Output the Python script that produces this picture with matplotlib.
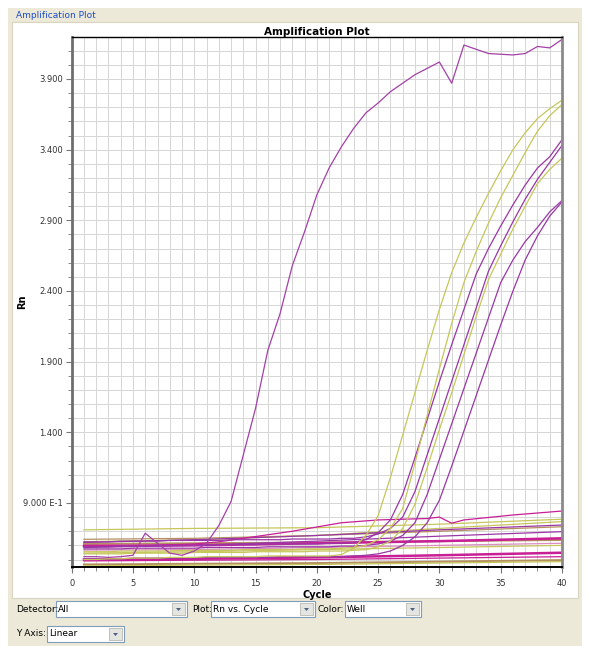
import matplotlib
matplotlib.use("Agg")
import matplotlib.pyplot as plt
import matplotlib.patches as mpatches
import numpy as np

W, H = 589, 646

cycles = list(range(1, 41))

# early amplifier
early = [0.52, 0.52, 0.515, 0.52, 0.53, 0.686, 0.615, 0.545, 0.53, 0.56,
         0.615, 0.74, 0.91, 1.24, 1.57, 1.98, 2.24, 2.58, 2.82, 3.08,
         3.27, 3.42, 3.55, 3.66, 3.73, 3.81, 3.87, 3.93, 3.975, 4.02,
         3.87, 4.14, 4.11, 4.08, 4.075, 4.07, 4.08, 4.13, 4.12, 4.18]

# late amplifiers
late_1 = [0.50, 0.50, 0.505, 0.505, 0.51, 0.51, 0.51, 0.515, 0.515, 0.515,
          0.52, 0.52, 0.52, 0.52, 0.52, 0.525, 0.525, 0.525, 0.525, 0.525,
          0.525, 0.535, 0.58, 0.67, 0.81, 1.08, 1.38, 1.68, 1.98, 2.27,
          2.53, 2.74, 2.92, 3.09, 3.25, 3.40, 3.52, 3.62, 3.69, 3.75]
late_2 = [0.555, 0.555, 0.555, 0.56, 0.56, 0.56, 0.56, 0.56, 0.565, 0.565,
          0.565, 0.565, 0.565, 0.57, 0.57, 0.57, 0.57, 0.57, 0.575, 0.575,
          0.575, 0.58, 0.585, 0.60, 0.64, 0.72, 0.86, 1.18, 1.52, 1.85,
          2.17, 2.46, 2.68, 2.88, 3.06, 3.22, 3.38, 3.53, 3.64, 3.72]
late_3 = [0.59, 0.59, 0.59, 0.595, 0.595, 0.595, 0.60, 0.60, 0.60, 0.60,
          0.60, 0.605, 0.605, 0.605, 0.605, 0.61, 0.61, 0.61, 0.61, 0.61,
          0.615, 0.615, 0.62, 0.64, 0.69, 0.78, 0.96, 1.22, 1.49, 1.76,
          2.02, 2.27, 2.52, 2.70, 2.86, 3.01, 3.15, 3.27, 3.35, 3.47]
late_4 = [0.625, 0.625, 0.625, 0.63, 0.63, 0.63, 0.63, 0.635, 0.635, 0.635,
          0.635, 0.635, 0.64, 0.64, 0.64, 0.64, 0.64, 0.645, 0.645, 0.645,
          0.645, 0.65, 0.65, 0.66, 0.68, 0.72, 0.80, 0.98, 1.24, 1.50,
          1.76, 2.02, 2.28, 2.54, 2.72, 2.89, 3.05, 3.19, 3.31, 3.43]
late_5 = [0.54, 0.54, 0.54, 0.54, 0.545, 0.545, 0.545, 0.545, 0.545, 0.55,
          0.55, 0.55, 0.55, 0.55, 0.555, 0.555, 0.555, 0.555, 0.555, 0.56,
          0.56, 0.56, 0.565, 0.57, 0.59, 0.63, 0.72, 0.89, 1.15, 1.42,
          1.68, 1.95, 2.22, 2.48, 2.66, 2.84, 3.00, 3.16, 3.26, 3.34]
late_6 = [0.575, 0.575, 0.575, 0.575, 0.58, 0.58, 0.58, 0.58, 0.58, 0.58,
          0.585, 0.585, 0.585, 0.585, 0.585, 0.59, 0.59, 0.59, 0.59, 0.59,
          0.59, 0.595, 0.595, 0.60, 0.61, 0.63, 0.67, 0.76, 0.96, 1.21,
          1.46, 1.71, 1.96, 2.21, 2.46, 2.62, 2.75, 2.85, 2.96, 3.04]
late_7 = [0.505, 0.505, 0.505, 0.505, 0.51, 0.51, 0.51, 0.51, 0.51, 0.51,
          0.515, 0.515, 0.515, 0.515, 0.515, 0.515, 0.52, 0.52, 0.52, 0.52,
          0.52, 0.52, 0.525, 0.53, 0.54, 0.56, 0.60, 0.66, 0.76, 0.92,
          1.16, 1.41, 1.66, 1.91, 2.16, 2.40, 2.62, 2.79, 2.93, 3.03]

# flat wells (read at a few cycles)
flat_cycles = [1, 10, 20, 30, 40]
flat_olive_top = [0.71, 0.72, 0.725, 0.75, 0.785]
flat_brown_1 = [0.643, 0.65, 0.67, 0.70, 0.732]
flat_olive_2 = [0.626, 0.64, 0.67, 0.72, 0.768]
flat_purple_1 = [0.62, 0.64, 0.67, 0.71, 0.744]
flat_brown_2 = [0.61, 0.615, 0.62, 0.63, 0.638]
flat_magenta_1 = [0.595, 0.60, 0.615, 0.63, 0.65]
flat_purple_2 = [0.585, 0.60, 0.63, 0.665, 0.697]
flat_pink = [0.567, 0.57, 0.585, 0.60, 0.615]
flat_olive_3 = [0.545, 0.555, 0.57, 0.585, 0.60]
flat_magenta_2 = [0.50, 0.505, 0.515, 0.53, 0.548]
flat_magenta_3 = [0.49, 0.495, 0.50, 0.51, 0.52]
flat_brown_3 = [0.465, 0.47, 0.475, 0.485, 0.496]
flat_olive_4 = [0.455, 0.46, 0.465, 0.475, 0.485]

rise_cycles = [1, 6, 10, 12, 14, 16, 18, 20, 22, 25, 29, 30, 31, 32, 36, 40]
rise_magenta = [0.60, 0.60, 0.61, 0.625, 0.65, 0.675, 0.70, 0.73, 0.76, 0.78,
                0.79, 0.80, 0.757, 0.78, 0.815, 0.843]

ytick_vals = [0.9, 1.4, 1.9, 2.4, 2.9, 3.4, 3.9]
ytick_labels = ["9.000 E-1", "1.400", "1.900", "2.400", "2.900", "3.400", "3.900"]
xtick_vals = [0, 5, 10, 15, 20, 25, 30, 35, 40]

PURPLE = "#9A36A6"
MAGENTA = "#C81E96"
OLIVE = "#C6C65A"
BROWN = "#B49060"
PINK = "#DC8CC0"
BEIGE = "#ECE9D8"


def fx(x):
    return x / W


def fy(y):
    return 1 - y / H


fig = plt.figure(figsize=(W / 100, H / 100), dpi=100)
fig.patch.set_facecolor("white")

# window frame
fig.add_artist(mpatches.Rectangle((fx(8), fy(646)), fx(574), 638 / H,
                                  facecolor=BEIGE, edgecolor="none", zorder=-10))
fig.add_artist(mpatches.Rectangle((fx(12), fy(598)), fx(566), 576 / H,
                                  facecolor="white", edgecolor="#D8D4C0", lw=0.8, zorder=-9))
fig.text(fx(16), fy(15), "Amplification Plot", color="#1C4CC8", fontsize=6.5,
         va="center", ha="left")

ax = fig.add_axes([fx(71.7), fy(567), (562 - 71.7) / W, (567 - 37) / H])

ax.plot(flat_cycles, flat_olive_top, color=OLIVE, lw=0.9)
ax.plot(flat_cycles, flat_brown_1, color=BROWN, lw=0.9)
ax.plot(flat_cycles, flat_olive_2, color=OLIVE, lw=0.9)
ax.plot(flat_cycles, flat_purple_1, color=PURPLE, lw=0.9)
ax.plot(flat_cycles, flat_brown_2, color=BROWN, lw=1.4)
ax.plot(flat_cycles, flat_magenta_1, color=MAGENTA, lw=1.8)
ax.plot(flat_cycles, flat_purple_2, color=PURPLE, lw=0.9)
ax.plot(flat_cycles, flat_pink, color=PINK, lw=0.9)
ax.plot(flat_cycles, flat_olive_3, color=OLIVE, lw=0.9)
ax.plot(flat_cycles, flat_magenta_2, color=MAGENTA, lw=1.8)
ax.plot(flat_cycles, flat_magenta_3, color=MAGENTA, lw=0.9)
ax.plot(flat_cycles, flat_brown_3, color=BROWN, lw=1.4)
ax.plot(flat_cycles, flat_olive_4, color=OLIVE, lw=0.9)
ax.plot(rise_cycles, rise_magenta, color=MAGENTA, lw=0.9)

ax.plot(cycles, late_7, color=PURPLE, lw=0.9)
ax.plot(cycles, late_6, color=PURPLE, lw=0.9)
ax.plot(cycles, late_5, color=OLIVE, lw=0.9)
ax.plot(cycles, late_4, color=PURPLE, lw=0.9)
ax.plot(cycles, late_3, color=PURPLE, lw=0.9)
ax.plot(cycles, late_2, color=OLIVE, lw=0.9)
ax.plot(cycles, late_1, color=OLIVE, lw=0.9)
ax.plot(cycles, early, color="#A440A8", lw=0.9)

ax.set_xlim(0, 40)
ax.set_ylim(0.447, 4.197)
ax.set_xticks(xtick_vals)
ax.set_xticks(np.arange(0, 41, 1), minor=True)
ax.set_yticks(ytick_vals)
ax.set_yticklabels(ytick_labels)
ax.set_yticks(np.arange(0.5, 4.2, 0.1), minor=True)
ax.grid(which="both", color="#D6D6D6", lw=0.7)
ax.set_axisbelow(True)
ax.tick_params(which="both", labelsize=6, colors="#777777", labelcolor="#333333")
ax.tick_params(axis="y", which="major", length=4, width=0.8, pad=2.5)
ax.tick_params(axis="x", which="major", length=4, width=0.8, pad=4.5)
ax.tick_params(which="minor", length=3, width=0.6)

ax.spines["left"].set_color("#6E6E6E")
ax.spines["left"].set_linewidth(2)
ax.spines["right"].set_color("#8A8A8A")
ax.spines["right"].set_linewidth(2)
ax.spines["top"].set_color("black")
ax.spines["top"].set_linewidth(1)
ax.spines["bottom"].set_color("black")
ax.spines["bottom"].set_linewidth(1.4)

ax.set_title("Amplification Plot", fontsize=7.5, fontweight="bold", pad=1.5)
fig.text(fx(22), fy(302), "Rn", rotation=90, fontsize=7, fontweight="bold",
         ha="center", va="center")
fig.text(fx(317), fy(595), "Cycle", fontsize=7, fontweight="bold",
         ha="center", va="center")


def combo(x0, x1, y0, y1, text):
    fig.add_artist(mpatches.Rectangle((fx(x0), fy(y1)), (x1 - x0) / W, (y1 - y0) / H,
                                      facecolor="white", edgecolor="#7F9DB9", lw=0.8))
    fig.add_artist(mpatches.Rectangle((fx(x1 - 15), fy(y1 - 2)), 13 / W, (y1 - y0 - 4) / H,
                                      facecolor="#E4E4E0", edgecolor="#B8B8B0", lw=0.6))
    cx = x1 - 8.5
    cy = (y0 + y1) / 2
    fig.add_artist(mpatches.Polygon([(fx(cx - 2.5), fy(cy - 1)), (fx(cx + 2.5), fy(cy - 1)),
                                     (fx(cx), fy(cy + 2))], closed=True,
                                    facecolor="#4D6185", edgecolor="none"))
    fig.text(fx(x0 + 2), fy(cy), text, fontsize=6.5, ha="left", va="center")


fig.text(fx(16), fy(609), "Detector:", fontsize=6.5, ha="left", va="center")
combo(56, 187, 601, 617, "All")
fig.text(fx(192), fy(609), "Plot:", fontsize=6.5, ha="left", va="center")
combo(211, 315, 601, 617, "Rn vs. Cycle")
fig.text(fx(318), fy(609), "Color:", fontsize=6.5, ha="left", va="center")
combo(345, 421, 601, 617, "Well")
fig.text(fx(16), fy(634), "Y Axis:", fontsize=6.5, ha="left", va="center")
combo(47, 124, 626, 642, "Linear")

fig.savefig("out.png", dpi=100, facecolor=fig.get_facecolor())
